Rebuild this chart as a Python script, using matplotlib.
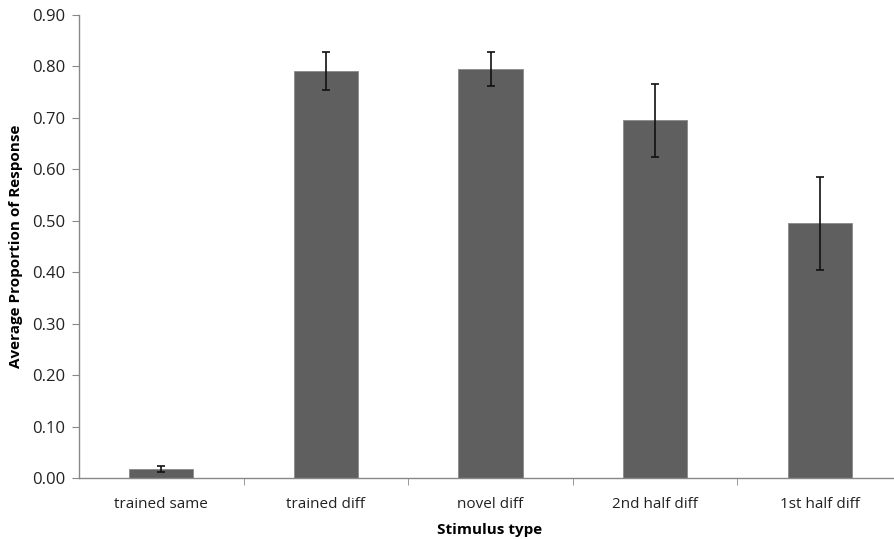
import numpy as np
import matplotlib.pyplot as plt

plt.rcParams['font.family'] = ['Open Sans', 'DejaVu Sans']

categories = ['trained same', 'trained diff', 'novel diff', '2nd half diff', '1st half diff']
means = [0.017, 0.791, 0.795, 0.695, 0.495]
errors = [0.006, 0.037, 0.033, 0.071, 0.090]

fig = plt.figure(figsize=(8.94, 5.39), dpi=100)
# axes run a little past the right edge of the figure
ax = fig.add_axes([79 / 894, 61 / 539, 823 / 894, 463 / 539])

x = np.arange(len(categories))
ax.bar(x, means, width=0.39, color='#5f5f5f', edgecolor='#8a8a8a', linewidth=0.6,
       yerr=errors, capsize=3, error_kw=dict(ecolor='#111111', elinewidth=1.2, capthick=1.2))

ax.set_xlim(-0.5, len(categories) - 0.5)
ax.set_ylim(0, 0.9)
ax.set_yticks(np.arange(0, 0.91, 0.1))
ax.set_yticklabels(['%.2f' % v for v in np.arange(0, 0.91, 0.1)])

ax.set_xticks(x)
ax.set_xticklabels(categories)
ax.set_xticks(np.arange(0.5, len(categories) - 0.5, 1), minor=True)
ax.tick_params(axis='x', which='major', length=0, pad=14, labelsize=11, colors='#222222')
ax.tick_params(axis='x', which='minor', length=5, color='#888888', direction='out')
ax.tick_params(axis='y', length=5, color='#888888', labelsize=12, labelcolor='#222222', pad=5)

for side in ['top', 'right']:
    ax.spines[side].set_visible(False)
for side in ['left', 'bottom']:
    ax.spines[side].set_color('#888888')
    ax.spines[side].set_linewidth(1)

ax.set_ylabel('Average Proportion of Response', fontsize=11, fontweight='bold')
ax.yaxis.set_label_coords(-56 / 823, 0.5)
ax.set_xlabel('Stimulus type', fontsize=11, fontweight='bold')
ax.xaxis.set_label_coords(411 / 823, -45 / 463)

fig.savefig('out.png', dpi=100)
